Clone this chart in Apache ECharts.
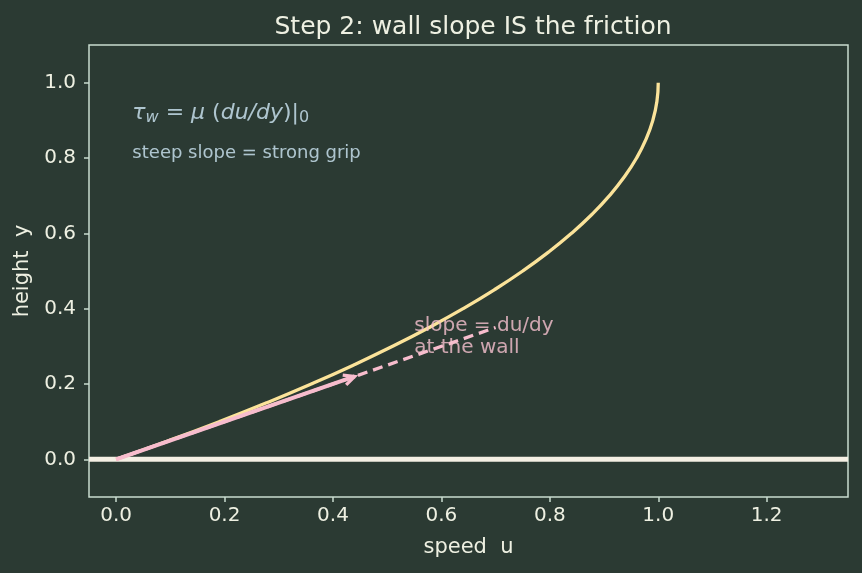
<!DOCTYPE html>
<html><head><meta charset="utf-8">
<script src="https://cdn.jsdelivr.net/npm/echarts@6/dist/echarts.min.js"></script>
<style>html,body{margin:0;padding:0;background:#2b3a33;}#c{width:862px;height:573px;}</style>
</head><body><div id="c"></div>
<script>
// profile: height y vs speed u
const profileY = [0,0.05,0.1,0.15,0.2,0.25,0.3,0.35,0.4,0.45,0.5,0.55,0.6,0.65,0.7,0.75,0.8,0.85,0.9,0.95,1.0];
const profileU = [0,0.0975,0.19,0.2775,0.36,0.4375,0.51,0.5775,0.64,0.6975,0.75,0.7975,0.84,0.8775,0.91,0.9375,0.96,0.9775,0.99,0.9975,1.0];
const tangentU = [0, 0.7];
const tangentY = [0, 0.35];
const arrowU = [0, 0.44];
const arrowY = [0, 0.22];
const wallU = [-0.05, 1.35];
const wallY = [0, 0];
const xTicks = [0,0.2,0.4,0.6,0.8,1.0,1.2];
const yTicks = [0,0.2,0.4,0.6,0.8,1.0];

const txt = '#eef0e2';
const border = '#c9dccf';
const F = 'DejaVu Sans';
const chart = echarts.init(document.getElementById('c'));
const pair = (a,b)=>a.map((v,i)=>[v,b[i]]);
chart.setOption({
  backgroundColor:'#2b3a33',
  animation:false,
  title:{text:'Step 2: wall slope IS the friction',left:468,top:10,textAlign:'center',
    textStyle:{color:txt,fontFamily:F,fontSize:25,fontWeight:'normal'}},
  grid:{left:89,right:14,top:45,bottom:76,show:true,borderColor:border,borderWidth:1.5,backgroundColor:'transparent'},
  xAxis:{type:'value',min:-0.05,max:1.35,name:'speed  u',nameLocation:'middle',nameGap:40,
    nameTextStyle:{color:txt,fontFamily:F,fontSize:21},
    axisLine:{show:false,onZero:false},splitLine:{show:false},
    axisTick:{show:true,customValues:xTicks,length:5,lineStyle:{color:border,width:1.5}},
    axisLabel:{customValues:xTicks,color:txt,fontFamily:F,fontSize:20,margin:9,formatter:v=>v.toFixed(1)}},
  yAxis:{type:'value',min:-0.1,max:1.1,name:'height  y',nameLocation:'middle',nameGap:56,
    nameTextStyle:{color:txt,fontFamily:F,fontSize:21},
    axisLine:{show:false,onZero:false},splitLine:{show:false},
    axisTick:{show:true,customValues:yTicks,length:5,lineStyle:{color:border,width:1.5}},
    axisLabel:{customValues:yTicks,color:txt,fontFamily:F,fontSize:20,margin:13,formatter:v=>v.toFixed(1)}},
  series:[
    {type:'line',data:pair(wallU,wallY),symbol:'none',lineStyle:{color:'#f4efe4',width:5},z:2},
    {type:'line',data:pair(profileU,profileY),symbol:'none',smooth:true,lineStyle:{color:'#fbe39a',width:3.3},z:3},
    {type:'line',data:pair(tangentU,tangentY),symbol:'none',lineStyle:{color:'#f7bccd',width:3.3,type:[10,6]},z:4},
    {type:'custom',z:5,data:[[arrowU[0],arrowY[0],arrowU[1],arrowY[1]]],
      renderItem:(params,api)=>{
        const p0=api.coord([api.value(0),api.value(1)]);
        const p1=api.coord([api.value(2),api.value(3)]);
        const ang=Math.atan2(p1[1]-p0[1],p1[0]-p0[0]);
        const L=12, a=0.45;
        const h1=[p1[0]-L*Math.cos(ang-a),p1[1]-L*Math.sin(ang-a)];
        const h2=[p1[0]-L*Math.cos(ang+a),p1[1]-L*Math.sin(ang+a)];
        return {type:'group',children:[
          {type:'line',shape:{x1:p0[0],y1:p0[1],x2:p1[0],y2:p1[1]},style:{stroke:'#f7bccd',lineWidth:4}},
          {type:'polyline',shape:{points:[h1,p1,h2]},style:{stroke:'#f7bccd',lineWidth:3.3,fill:null}}
        ]};
      }},
    {type:'scatter',data:[[0.03,0.9]],symbolSize:0,silent:true,
      label:{show:true,position:'right',distance:0,offset:[0,-7],formatter:'{i|τ}{s|w}{n| = }{i|μ}{n| (}{i|du/dy}{n|)|}{t|0}',
        rich:{i:{fontFamily:F,fontStyle:'italic',fontSize:22,color:'#d0e8f6'},
              n:{fontFamily:F,fontSize:22,color:'#d0e8f6'},
              s:{fontFamily:F,fontStyle:'italic',fontSize:16,color:'#d0e8f6',padding:[10,0,0,0]},
              t:{fontFamily:F,fontSize:16,color:'#d0e8f6',padding:[10,0,0,0]}}}},
    {type:'scatter',data:[[0.03,0.8]],symbolSize:0,silent:true,
      label:{show:true,position:'right',distance:0,offset:[0,-5],formatter:'steep slope = strong grip',
        fontFamily:F,fontSize:18,color:'#d0e8f6'}},
    {type:'scatter',data:[[0.55,0.28]],symbolSize:0,silent:true,z:6,
      label:{show:true,position:'right',distance:0,offset:[0,-17],formatter:'slope = du/dy\nat the wall',lineHeight:22,
        fontFamily:F,fontSize:20,color:'#f7c2d0'}}
  ]
});
</script></body></html>
